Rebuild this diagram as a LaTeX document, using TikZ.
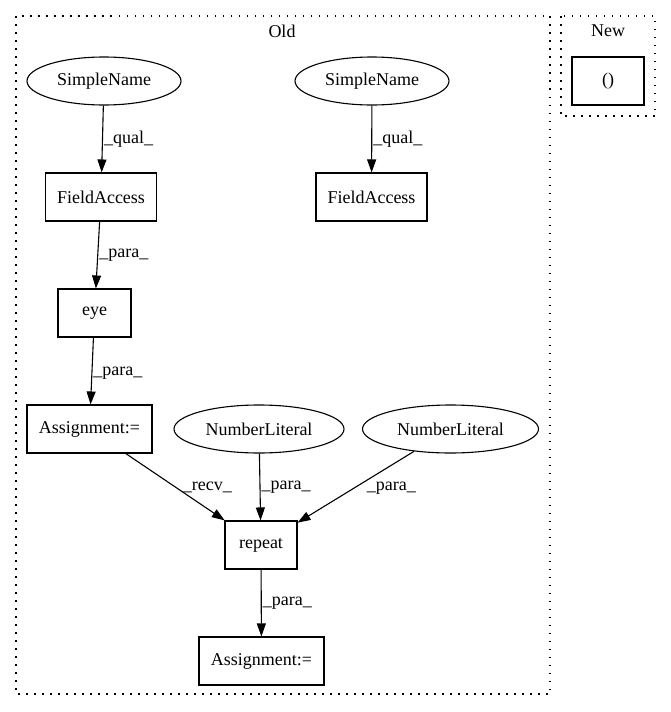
\documentclass[tikz,border=0pt]{standalone}
\usepackage{fontspec}
\setmainfont{Liberation Serif}
\usetikzlibrary{arrows.meta,shapes.geometric}
\begin{document}
\begin{tikzpicture}[x=1pt,y=-1pt,
 every node/.style={font=\fontsize{18}{21}\selectfont},
 box/.style={draw,line width=1.1pt,minimum height=48pt,inner sep=0pt},
 ell/.style={draw,ellipse,line width=1.1pt,minimum height=48pt,inner sep=0pt},
 cluster/.style={draw,line width=1.2pt,dash pattern=on 1.5pt off 6.5pt},
 edge/.style={line width=1.1pt,-{Triangle[length=13pt,width=9pt]}},
 lab/.style={anchor=west,inner sep=0pt}]
\useasboundingbox (0,0) rectangle (671,712);
\draw[cluster] (16,16) rectangle (550,694);
\draw[cluster] (561,16) rectangle (655,116);
\node (oldlab) at (282,31) {Old};
\node (newlab) at (608,31) {New};
\node[box,minimum width=72pt] (paren) at (608,81) {()};
\node[ell,minimum width=154pt] (sn1) at (104,81) {SimpleName};
\node[ell,minimum width=154pt] (sn2) at (372,81) {SimpleName};
\node[box,minimum width=111pt] (fa1) at (101,197) {FieldAccess};
\node[box,minimum width=111pt] (fa2) at (371.5,197) {FieldAccess};
\node[box,minimum width=73pt] (eye) at (94.5,313) {eye};
\node[box,minimum width=125pt] (as1) at (89.5,429) {Assignment:=};
\node[ell,minimum width=170pt] (nl1) at (259,429) {NumberLiteral};
\node[ell,minimum width=176pt] (nl2) at (450.5,429) {NumberLiteral};
\node[box,minimum width=72pt] (rep) at (261,545) {repeat};
\node[box,minimum width=125pt] (as2) at (261.5,661) {Assignment:=};
\draw[edge] (sn1) -- node[lab,pos=0.5,xshift=1pt] {\_qual\_} (fa1);
\draw[edge] (sn2) -- node[lab,pos=0.5,xshift=1pt] {\_qual\_} (fa2);
\draw[edge] (fa1) -- node[lab,pos=0.5,xshift=1pt] {\_para\_} (eye);
\draw[edge] (eye) -- node[lab,pos=0.53,xshift=1pt] {\_para\_} (as1);
\draw[edge] (as1) -- node[lab,pos=0.51,xshift=6pt] {\_recv\_} (rep);
\draw[edge] (nl1) -- node[lab,pos=0.51,xshift=1pt] {\_para\_} (rep);
\draw[edge] (nl2) -- node[lab,pos=0.52,xshift=13pt] {\_para\_} (rep);
\draw[edge] (rep) -- node[lab,pos=0.5,xshift=1pt] {\_para\_} (as2);
\end{tikzpicture}
\end{document}
